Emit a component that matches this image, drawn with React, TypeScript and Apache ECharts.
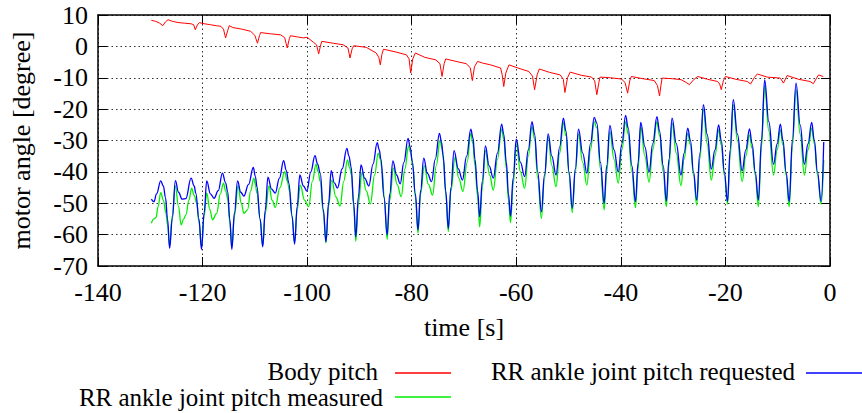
import React, { useEffect, useRef } from "react";
import * as echarts from "echarts";

const xTicks = { min: -140, max: 0, interval: 20 };
const yTicks = { min: -70, max: 10, interval: 10 };

const seriesNames = ["Body pitch", "RR ankle joint pitch requested", "RR ankle joint pitch measured"];

const bodyPitch: number[][] = [
  [-129.8, 8.3], [-129.0, 8.0], [-128.2, 7.4], [-127.6, 6.6], [-127.1, 7.8], [-126.6, 8.5], [-125.8, 8.0], [-124.7, 7.6],
  [-123.5, 7.4], [-122.2, 7.2], [-121.7, 6.9], [-121.4, 5.3], [-121.0, 6.8], [-120.6, 7.6], [-120.0, 7.3], [-118.5, 6.9],
  [-117.4, 6.6], [-116.5, 6.4], [-116.0, 5.5], [-115.6, 2.7], [-115.2, 5.0], [-114.9, 6.6], [-114.2, 6.0], [-112.5, 5.5],
  [-110.8, 4.8], [-110.0, 3.5], [-109.5, 1.0], [-109.1, 3.5], [-108.9, 4.4], [-107.0, 4.0], [-105.1, 3.7], [-104.3, 2.8],
  [-103.8, -0.5], [-103.4, 2.5], [-103.2, 3.4], [-101.8, 3.0], [-100.7, 2.7], [-100.0, 2.9], [-98.8, 1.3], [-98.2, 0.5],
  [-97.8, -2.4], [-97.4, 0.5], [-97.2, 1.6], [-95.0, 1.0], [-93.1, 0.5], [-92.2, -0.5], [-91.8, -3.7], [-91.4, -0.8],
  [-91.1, 0.2], [-88.7, -0.3], [-86.8, -2.1], [-86.3, -3.5], [-86.0, -5.9], [-85.7, -2.5], [-85.4, -0.9], [-83.0, -1.8],
  [-81.0, -2.7], [-80.5, -4.0], [-80.2, -8.5], [-79.8, -4.0], [-79.3, -2.1], [-77.5, -3.5], [-75.4, -4.3], [-74.6, -5.5],
  [-74.2, -9.6], [-73.8, -5.5], [-73.5, -4.0], [-71.5, -4.8], [-69.6, -5.5], [-68.8, -6.8], [-68.4, -10.9], [-68.0, -6.5],
  [-67.4, -4.8], [-66.5, -5.3], [-64.9, -5.9], [-63.0, -6.9], [-62.7, -9.0], [-62.4, -12.8], [-62.0, -8.5], [-61.4, -5.9],
  [-59.5, -7.0], [-57.6, -8.0], [-56.9, -9.5], [-56.5, -13.8], [-56.0, -9.0], [-55.6, -7.2], [-53.6, -8.3], [-51.6, -9.1],
  [-51.0, -10.5], [-50.7, -14.7], [-50.2, -10.0], [-49.7, -8.2], [-47.6, -9.2], [-45.6, -9.8], [-45.0, -11.0], [-44.6, -15.4],
  [-44.2, -11.5], [-44.0, -9.8], [-42.0, -10.0], [-39.9, -10.4], [-39.2, -11.5], [-38.7, -14.9], [-38.3, -11.0], [-38.0, -9.6],
  [-35.8, -10.3], [-33.6, -10.9], [-33.0, -12.5], [-32.6, -15.8], [-32.3, -12.0], [-32.1, -10.1], [-30.2, -10.3], [-28.5, -10.6],
  [-27.5, -11.5], [-26.9, -12.2], [-26.0, -10.5], [-25.3, -9.6], [-23.4, -10.5], [-21.5, -11.2], [-21.1, -12.0], [-20.8, -13.8],
  [-20.4, -11.0], [-20.0, -9.6], [-18.0, -10.5], [-15.8, -11.2], [-15.2, -12.0], [-14.5, -10.0], [-13.9, -8.8], [-12.0, -9.8],
  [-9.5, -10.1], [-8.9, -11.7], [-8.2, -9.3], [-6.0, -10.5], [-3.8, -11.2], [-3.2, -11.9], [-2.2, -9.1], [-1.3, -9.6],
];

const requested: number[][] = [
  [-129.8, -48.7], [-129.3, -49.5], [-128.8, -47], [-128.0, -42.9], [-127.5, -44.5], [-127.1, -48.1], [-126.7, -55], [-126.3, -64.4],
  [-125.8, -55], [-125.2, -42.8], [-124.6, -46.5], [-123.9, -48.7], [-123.2, -48.5], [-122.2, -42.0], [-121.6, -44.5], [-121.3, -46.8],
  [-120.7, -55], [-120.2, -64.7], [-119.7, -53], [-119.2, -42.9], [-118.5, -47], [-117.8, -48.4], [-117.0, -46], [-116.2, -40.4],
  [-115.6, -43.5], [-115.2, -46.3], [-114.8, -55], [-114.4, -64.7], [-113.9, -53], [-113.3, -42.9], [-112.7, -46.5], [-112.1, -47.7],
  [-111.2, -44], [-110.3, -38.6], [-109.9, -41.5], [-109.6, -44.7], [-109.0, -55], [-108.5, -63.9], [-108.0, -52], [-107.5, -41.7],
  [-106.8, -45.5], [-106.1, -46.8], [-105.3, -42], [-104.5, -36.4], [-104.0, -39.5], [-103.5, -43.6], [-102.9, -54], [-102.4, -63.0],
  [-101.9, -51], [-101.4, -41.0], [-100.7, -44.5], [-100.05, -46.1], [-99.3, -40], [-98.5, -34.8], [-98.0, -37.5], [-97.5, -40.4],
  [-96.9, -52], [-96.4, -62.3], [-95.9, -50], [-95.4, -39.6], [-94.8, -43.5], [-94.2, -45.2], [-93.3, -39], [-92.4, -32.5],
  [-92.0, -35], [-91.6, -38.3], [-91.1, -50], [-90.7, -60.7], [-90.2, -48], [-89.7, -37.8], [-89.0, -42], [-88.2, -44.5],
  [-87.4, -37.5], [-86.6, -30.7], [-86.2, -33], [-85.9, -35.9], [-85.3, -48], [-84.7, -60.1], [-84.2, -47], [-83.6, -36.5],
  [-82.9, -41], [-82.2, -43.8], [-81.5, -37], [-80.7, -29.3], [-80.3, -32], [-79.9, -36.6], [-79.3, -47], [-78.8, -58.5],
  [-78.3, -46], [-77.7, -35.6], [-77.0, -40.5], [-76.2, -43.1], [-75.5, -36], [-74.7, -27.7], [-74.3, -30.5], [-74.0, -34.7],
  [-73.5, -46], [-73.0, -58.0], [-72.5, -45], [-71.9, -33.2], [-71.1, -39], [-70.3, -42.6], [-69.5, -35], [-68.7, -26.4],
  [-68.3, -29], [-67.9, -36], [-67.4, -46], [-67.0, -54.3], [-66.5, -43], [-65.9, -31.7], [-65.2, -38], [-64.4, -42.0],
  [-63.6, -34], [-62.8, -24.8], [-62.4, -28], [-61.9, -37], [-61.5, -47], [-61.1, -54.1], [-60.6, -42], [-60.0, -29.6],
  [-59.2, -37], [-58.4, -41.5], [-57.7, -33], [-57.0, -24.0], [-56.5, -28], [-55.9, -40], [-55.2, -52.7], [-54.6, -41],
  [-53.9, -27.9], [-53.2, -35], [-52.4, -41.0], [-51.7, -32], [-51.0, -22.9], [-50.5, -27], [-49.9, -40], [-49.3, -51.6],
  [-48.7, -39], [-48.1, -26.4], [-47.3, -34], [-46.5, -40.4], [-45.8, -31], [-45.1, -22.6], [-44.6, -24.5], [-43.9, -37],
  [-43.2, -50.0], [-42.7, -38], [-42.1, -25.2], [-41.3, -33], [-40.5, -40.1], [-39.8, -31], [-39.1, -22.0], [-38.6, -26],
  [-37.9, -38], [-37.2, -49.5], [-36.7, -37], [-36.2, -24.2], [-35.4, -32], [-34.6, -40.1], [-33.9, -31], [-33.1, -22.4],
  [-32.6, -27], [-31.9, -38], [-31.3, -49.3], [-30.8, -36], [-30.2, -22.9], [-29.4, -31], [-28.5, -41.0], [-27.9, -34],
  [-27.2, -26.1], [-26.7, -30], [-26.1, -40], [-25.5, -49.0], [-24.9, -34], [-24.2, -18.6], [-23.5, -28], [-22.7, -39.1],
  [-22.0, -33], [-21.3, -25.0], [-20.8, -30], [-20.2, -40], [-19.6, -49.5], [-19.1, -33], [-18.5, -17.0], [-17.7, -28],
  [-16.8, -39.7], [-16.1, -33], [-15.4, -26.3], [-14.9, -31], [-14.3, -40], [-13.7, -49.0], [-13.1, -30], [-12.5, -10.7],
  [-11.7, -24], [-10.8, -37.6], [-10.1, -31], [-9.5, -24.8], [-9.0, -30], [-8.4, -40], [-7.8, -49.5], [-7.2, -30],
  [-6.5, -11.7], [-5.7, -25], [-4.9, -37.6], [-4.2, -31], [-3.5, -24.2], [-3.0, -30], [-2.4, -40], [-1.7, -49.5], [-1.2, -30.5],
];

const measured: number[][] = [
  [-129.8, -56.4], [-129.3, -55], [-128.9, -54.5], [-128.5, -51], [-128.0, -46.6], [-127.5, -49], [-127.0, -53.2], [-126.7, -57],
  [-126.3, -63.5], [-125.8, -54], [-125.2, -44.5], [-124.6, -51], [-124.1, -56.9], [-123.6, -55], [-123.2, -53.7], [-122.6, -49],
  [-122.1, -45.2], [-121.6, -47.5], [-121.1, -50.0], [-120.7, -56], [-120.2, -63.8], [-119.7, -54], [-119.2, -46.8], [-118.6, -52],
  [-118.1, -55.3], [-117.3, -53.2], [-116.6, -47], [-116.0, -43.6], [-115.6, -46], [-115.2, -48.5], [-114.8, -56], [-114.4, -64],
  [-113.9, -54], [-113.2, -44.5], [-112.6, -50], [-112.1, -53.2], [-111.4, -52.1], [-110.8, -46], [-110.2, -42.0], [-109.9, -44],
  [-109.6, -46.8], [-109.0, -55], [-108.5, -63.5], [-108.0, -53], [-107.3, -44.5], [-106.7, -49], [-106.1, -51.3], [-105.2, -45],
  [-104.3, -39.9], [-103.8, -43], [-103.3, -46.5], [-102.9, -54], [-102.4, -62.5], [-101.9, -52], [-101.3, -44.2], [-100.5, -49],
  [-99.7, -51.1], [-99.0, -43], [-98.3, -37.5], [-97.9, -40], [-97.5, -43], [-96.9, -53], [-96.4, -62.6], [-95.9, -51],
  [-95.3, -42.6], [-94.5, -48], [-93.7, -50.9], [-93.0, -43], [-92.3, -36.2], [-91.9, -38.5], [-91.5, -41], [-91.1, -51],
  [-90.7, -62.1], [-90.2, -50], [-89.5, -40.2], [-88.7, -46], [-87.9, -50.2], [-87.1, -41], [-86.4, -34.0], [-86.0, -36],
  [-85.7, -39], [-85.2, -49], [-84.7, -61.5], [-84.2, -49], [-83.5, -38.8], [-82.8, -44], [-82.0, -47.9], [-81.3, -39],
  [-80.6, -31.7], [-80.2, -34], [-79.8, -38], [-79.3, -48], [-78.8, -59.5], [-78.3, -47], [-77.6, -38.1], [-76.8, -44],
  [-76.0, -47.4], [-75.3, -38], [-74.6, -30.0], [-74.2, -32.5], [-73.9, -36.5], [-73.5, -47], [-73.0, -59], [-72.5, -46],
  [-71.7, -35.3], [-71.0, -42], [-70.2, -46.3], [-69.4, -37], [-68.7, -27.7], [-68.3, -31], [-67.9, -38], [-67.4, -48],
  [-67.0, -57.5], [-66.5, -45], [-65.9, -33.2], [-65.1, -41], [-64.4, -45.8], [-63.6, -36], [-62.8, -26.4], [-62.4, -29.5],
  [-61.9, -39], [-61.5, -49], [-61.1, -56.2], [-60.6, -44], [-60.0, -30.9], [-59.2, -40], [-58.4, -45.2], [-57.7, -35],
  [-57.0, -25.6], [-56.5, -29.5], [-55.9, -42], [-55.2, -54.8], [-54.6, -42], [-53.9, -28.7], [-53.2, -38], [-52.4, -44.7],
  [-51.7, -34], [-51.0, -24.3], [-50.5, -28.5], [-49.9, -41], [-49.3, -53.0], [-48.7, -40], [-48.1, -27.9], [-47.3, -37],
  [-46.5, -44.2], [-45.8, -33], [-45.1, -24.0], [-44.6, -26], [-43.9, -39], [-43.2, -52.1], [-42.7, -40], [-42.1, -27.2],
  [-41.3, -36], [-40.5, -43.6], [-39.8, -33], [-39.1, -24.0], [-38.6, -28], [-37.9, -40], [-37.2, -51.4], [-36.7, -39],
  [-36.2, -25.6], [-35.4, -35], [-34.6, -43.3], [-33.9, -33], [-33.1, -24.0], [-32.6, -28.5], [-31.9, -40], [-31.3, -51.1],
  [-30.8, -38], [-30.2, -24.5], [-29.4, -34], [-28.5, -44.4], [-27.9, -36], [-27.2, -27.7], [-26.7, -31.5], [-26.1, -41],
  [-25.5, -50.6], [-24.9, -36], [-24.2, -20.2], [-23.5, -31], [-22.7, -42.6], [-22.0, -35], [-21.3, -26.6], [-20.8, -31.5],
  [-20.2, -41], [-19.6, -50.3], [-19.1, -35], [-18.5, -18.6], [-17.7, -30], [-16.8, -43.1], [-16.1, -35], [-15.4, -28.2],
  [-14.9, -32.5], [-14.3, -41], [-13.7, -51.1], [-13.1, -32], [-12.5, -12.5], [-11.7, -27], [-10.8, -41.0], [-10.1, -33],
  [-9.5, -26.6], [-9.0, -31.5], [-8.4, -41], [-7.8, -51.1], [-7.2, -32], [-6.5, -13.8], [-5.7, -28], [-4.9, -41.0],
  [-4.2, -33], [-3.5, -26.1], [-3.0, -31], [-2.4, -41], [-1.7, -50.3], [-1.2, -36.2],
];

const FONT = "Liberation Serif";
const colors = { body: "#ff0000", req: "#0000ff", meas: "#00ee00" };

export default function App() {
  const ref = useRef<HTMLDivElement>(null);
  useEffect(() => {
    document.body.style.margin = "0";
    const chart = echarts.init(ref.current!, null, { renderer: "svg" });
    const gridDot = { color: "#333", width: 1, type: [1.5, 3] as any };
    const tickStyle = { color: "#000", width: 1 };
    const axisLine = { onZero: false, lineStyle: { color: "#000", width: 1.5 } };
    const legendText = (text: string, x: number, y: number) => ({
      type: "text", x, y,
      style: {
        text, fontFamily: FONT, fontSize: 25, fill: "#000",
        align: "right", verticalAlign: "middle",
      },
    });
    chart.setOption({
      animation: false,
      backgroundColor: "#fff",
      textStyle: { fontFamily: FONT },
      grid: { left: 93, right: 32, top: 15, bottom: 147, containLabel: false },
      xAxis: [
        {
          type: "value", ...xTicks, position: "bottom",
          axisLine, axisTick: { inside: true, length: 9, lineStyle: tickStyle },
          axisLabel: { color: "#000", fontSize: 26, fontFamily: FONT, margin: 13 },
          splitLine: { show: true, lineStyle: gridDot },
          name: "time [s]", nameLocation: "middle", nameGap: 48,
          nameTextStyle: { color: "#000", fontSize: 26, fontFamily: FONT },
        },
        {
          type: "value", ...xTicks, position: "top",
          axisLine, axisTick: { inside: true, length: 9, lineStyle: tickStyle },
          axisLabel: { show: false }, splitLine: { show: false },
        },
      ],
      yAxis: [
        {
          type: "value", ...yTicks, position: "left",
          axisLine, axisTick: { inside: true, length: 9, lineStyle: tickStyle },
          axisLabel: { color: "#000", fontSize: 26, fontFamily: FONT, margin: 10 },
          splitLine: { show: true, lineStyle: gridDot },
          name: "motor angle [degree]", nameLocation: "middle", nameGap: 64, nameRotate: 90,
          nameTextStyle: { color: "#000", fontSize: 26, fontFamily: FONT },
        },
        {
          type: "value", ...yTicks, position: "right",
          axisLine, axisTick: { inside: true, length: 9, lineStyle: tickStyle },
          axisLabel: { show: false }, splitLine: { show: false },
        },
      ],
      series: [
        {
          name: seriesNames[0], type: "line", data: bodyPitch, showSymbol: false,
          lineStyle: { color: colors.body, width: 1 }, z: 3,
        },
        {
          name: seriesNames[2], type: "line", data: measured, showSymbol: false,
          smooth: 0.4, smoothMonotone: "x",
          lineStyle: { color: colors.meas, width: 1.3 }, z: 4,
        },
        {
          name: seriesNames[1], type: "line", data: requested, showSymbol: false,
          smooth: 0.4, smoothMonotone: "x",
          lineStyle: { color: colors.req, width: 1.3 }, z: 5,
        },
      ],
      graphic: [
        legendText(seriesNames[0], 378, 371),
        { type: "line", shape: { x1: 395, y1: 373, x2: 451, y2: 373 }, style: { stroke: colors.body, lineWidth: 1.3 } },
        legendText(seriesNames[1], 795, 371),
        { type: "line", shape: { x1: 806, y1: 373, x2: 862, y2: 373 }, style: { stroke: colors.req, lineWidth: 1.3 } },
        legendText(seriesNames[2], 383, 397),
        { type: "line", shape: { x1: 395, y1: 397, x2: 451, y2: 397 }, style: { stroke: colors.meas, lineWidth: 1.3 } },
      ],
    });
    return () => chart.dispose();
  }, []);
  return <div ref={ref} style={{ position: "absolute", left: 0, top: 0, width: 862, height: 413 }} />;
}
